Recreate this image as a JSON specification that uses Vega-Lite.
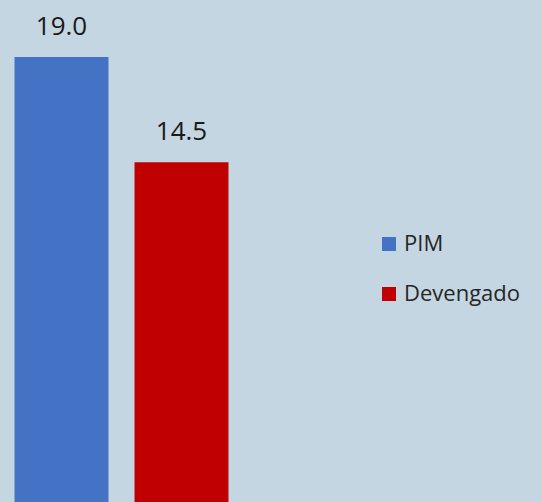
{
  "$schema": "https://vega.github.io/schema/vega-lite/v6.json",
  "width": 542,
  "height": 502,
  "padding": 0,
  "autosize": {"type": "none"},
  "background": "#c3d6e2",
  "config": {"view": {"stroke": null}, "font": "Open Sans"},
  "data": {"values": [
    {"serie": "PIM", "valor": 19.0},
    {"serie": "Devengado", "valor": 14.5}
  ]},
  "encoding": {
    "x": {"field": "serie", "type": "nominal", "sort": ["PIM", "Devengado"],
      "scale": {"range": [0, 243], "paddingInner": 0.217, "paddingOuter": 0.121}, "axis": null},
    "y": {"field": "valor", "type": "quantitative", "scale": {"domain": [0, 21.43], "nice": false, "zero": true}, "axis": null}
  },
  "layer": [
    {"mark": {"type": "bar"},
     "encoding": {"color": {"field": "serie", "type": "nominal",
        "scale": {"domain": ["PIM", "Devengado"], "range": ["#4472c4", "#c00000"]},
        "legend": {"title": null, "orient": "none", "legendX": 378, "legendY": 233,
          "symbolType": "square", "symbolSize": 196, "symbolStrokeWidth": 0,
          "labelFontSize": 22, "labelColor": "#262626", "labelFont": "Open Sans",
          "rowPadding": 28, "labelOffset": 4, "labelLimit": 250}}}},
    {"mark": {"type": "text", "baseline": "alphabetic", "dy": -22, "fontSize": 26, "color": "#1a1a1a"},
     "encoding": {"text": {"field": "valor", "type": "quantitative", "format": ".1f"}}}
  ]
}
